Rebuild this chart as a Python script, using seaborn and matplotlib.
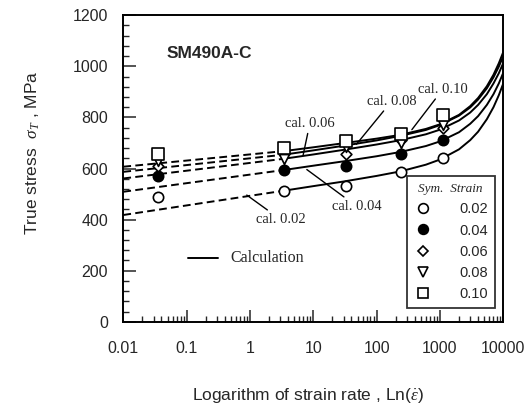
import numpy as np
import pandas as pd
import seaborn as sns
import matplotlib.pyplot as plt
from matplotlib.lines import Line2D
from matplotlib.ticker import MultipleLocator, LogLocator, NullFormatter

# measured points (strain rate, true stress) for each strain level
strains = ['0.02', '0.04', '0.06', '0.08', '0.10']
rates = [0.035, 3.4, 33, 240, 1125]
stress_002 = [489, 513, 532, 588, 642]
stress_004 = [570, 594, 610, 656, 711]
stress_006 = [610, 655, 658, 710, 759]
stress_008 = [628, 636, 685, 698, 770]
stress_010 = [656, 679, 708, 737, 809]

# calculation curves
cal_rates = [3.4, 10, 30, 100, 240, 600, 1000, 2000, 3000, 4000, 5500, 7000, 8500, 10000]
cal_002 = [513, 531, 549, 571, 589, 615, 635, 675, 711, 744, 793, 840, 887, 933]
cal_004 = [594, 611, 628, 648, 665, 688, 706, 742, 775, 805, 849, 891, 933, 975]
cal_006 = [638, 655, 673, 694, 711, 734, 752, 788, 819, 849, 891, 933, 973, 1013]
cal_008 = [654, 671, 689, 710, 728, 751, 770, 807, 839, 870, 914, 957, 999, 1040]
cal_010 = [668, 683, 699, 717, 732, 755, 773, 810, 844, 876, 922, 967, 1012, 1056]
# extrapolated (dashed) part: value at 0.01, joins the curve at 3.4
ext_rates = [0.01, 3.4]
ext_start = [418, 509, 561, 587, 607]

pts = [stress_002, stress_004, stress_006, stress_008, stress_010]
cals = [cal_002, cal_004, cal_006, cal_008, cal_010]

df_pts = pd.concat([pd.DataFrame({'rate': rates, 'stress': s, 'strain': k})
                    for k, s in zip(strains, pts)])
df_cal = pd.concat([pd.DataFrame({'rate': cal_rates, 'stress': c, 'strain': k})
                    for k, c in zip(strains, cals)])
df_ext = pd.concat([pd.DataFrame({'rate': ext_rates, 'stress': [s0, c[0]], 'strain': k})
                    for k, s0, c in zip(strains, ext_start, cals)])

sns.set_style('ticks')
plt.rcParams['font.family'] = ['Liberation Sans', 'DejaVu Sans']
plt.rcParams['mathtext.fontset'] = 'custom'
plt.rcParams['mathtext.it'] = 'Liberation Serif:italic'
plt.rcParams['mathtext.rm'] = 'Liberation Sans'

fig = plt.figure(figsize=(5.27, 4.12), dpi=100)
ax = fig.add_axes([0.234, 0.219, 0.721, 0.744])

sns.lineplot(data=df_cal, x='rate', y='stress', units='strain', estimator=None,
             color='black', lw=1.4, ax=ax)
sns.lineplot(data=df_ext, x='rate', y='stress', units='strain', estimator=None,
             color='black', lw=1.4, ls=(0, (4, 2.2)), ax=ax)

markers = {'0.02': 'o', '0.04': 'o', '0.06': 'D', '0.08': 'v', '0.10': 's'}
faces = {'0.02': 'white', '0.04': 'black', '0.06': 'white', '0.08': 'white', '0.10': 'white'}
sizes = {'0.02': 55, '0.04': 55, '0.06': 30, '0.08': 50, '0.10': 75}
for k in strains:
    sns.scatterplot(data=df_pts[df_pts.strain == k], x='rate', y='stress',
                    marker=markers[k], s=sizes[k], facecolor=faces[k],
                    edgecolor='black', linewidth=1.2, zorder=5, ax=ax)

ax.set_xscale('log')
ax.set_xlim(0.01, 10000)
ax.set_ylim(0, 1200)
ax.set_xticks([0.01, 0.1, 1, 10, 100, 1000, 10000])
ax.set_xticklabels(['0.01', '0.1', '1', '10', '100', '1000', '10000'])
ax.xaxis.set_minor_locator(LogLocator(base=10, subs=np.arange(2, 10), numticks=20))
ax.xaxis.set_minor_formatter(NullFormatter())
ax.set_yticks([0, 200, 400, 600, 800, 1000, 1200])
ax.yaxis.set_minor_locator(MultipleLocator(40))
ax.tick_params(which='both', direction='in', top=False, right=False,
               labelsize=11.5, width=1.1)
ax.tick_params(axis='y', which='major', length=9, pad=11)
ax.tick_params(axis='x', which='major', length=9, pad=14)
ax.tick_params(which='minor', length=4, width=1.0)
for sp in ax.spines.values():
    sp.set_linewidth(1.4)
    sp.set_color('black')

ax.set_xlabel(r'Logarithm of strain rate , Ln($\dot{\varepsilon}$)', fontsize=12.5)
ax.xaxis.set_label_coords(0.485, -0.21)
ax.set_ylabel(r'True stress  $\sigma_T$ , MPa', fontsize=12.5)
ax.yaxis.set_label_coords(-0.215, 0.55)

ax.text(0.115, 0.876, 'SM490A-C', transform=ax.transAxes, fontsize=12.5,
        fontweight='bold', va='center', ha='left')

# labels for calculation curves with leader lines
serif = ['Liberation Serif', 'DejaVu Serif']
lab = dict(fontsize=10.5, family=serif, arrowprops=dict(arrowstyle='-', lw=1.0, color='black',
                                                        shrinkA=0, shrinkB=0))
ax.annotate('cal. 0.02', xy=(0.89, 496), xytext=(1.25, 425), ha='left', va='top', **lab)
ax.annotate('cal. 0.04', xy=(7.9, 596), xytext=(20, 476), ha='left', va='top', **lab)
ax.annotate('cal. 0.06', xy=(6.9, 652), xytext=(8.8, 750), ha='center', va='bottom', **lab)
ax.annotate('cal. 0.08', xy=(48, 695), xytext=(70, 838), ha='left', va='bottom', **lab)
ax.annotate('cal. 0.10', xy=(360, 752), xytext=(450, 885), ha='left', va='bottom', **lab)

# "Calculation" key
ax.plot([0.171, 0.25], [0.208, 0.208], color='black', lw=1.4, transform=ax.transAxes)
ax.text(0.281, 0.208, 'Calculation', transform=ax.transAxes, fontsize=11.5,
        family=serif, va='center', ha='left')

handles = [Line2D([], [], ls='none', marker=markers[k], markersize=7 if k != '0.06' else 5.5,
                  markerfacecolor=faces[k], markeredgecolor='black', markeredgewidth=1.2)
           for k in strains]
leg = ax.legend(handles, strains, title='Sym.  Strain', loc='lower right',
                bbox_to_anchor=(0.978, 0.045), borderaxespad=0, fontsize=10.5,
                frameon=True, fancybox=False, edgecolor='black', labelspacing=0.5,
                handletextpad=1.8, borderpad=0.45, handlelength=1.4)
leg.get_frame().set_linewidth(1.3)
leg.get_title().set_fontfamily(serif)
leg.get_title().set_fontstyle('italic')
leg.get_title().set_fontsize(9.5)

fig.savefig('out.png', dpi=100)
